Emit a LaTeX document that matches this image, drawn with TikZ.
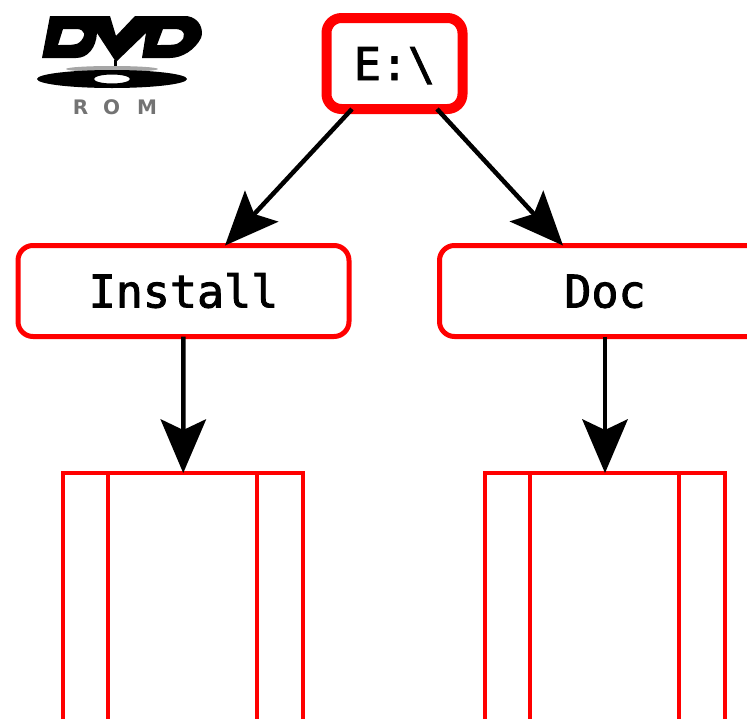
\documentclass[tikz,border=0pt]{standalone}
\usepackage{fontspec}
\usetikzlibrary{arrows.meta}
\setmonofont[FakeBold=2]{DejaVu Sans Mono}
\setsansfont{DejaVu Sans}
\definecolor{dirred}{RGB}{255,0,0}
\tikzset{
    dirbox/.style={draw=dirred, rounded corners=15pt, outer sep=0pt, line width=5pt, minimum width=331pt, minimum height=91pt,
        font=\ttfamily\fontsize{45}{45}\selectfont, text height=33pt, text depth=0pt},
    rootbox/.style={dirbox, line width=10pt, minimum width=136pt},
    filebox/.style={draw=dirred, outer sep=0pt, line width=3.5pt, minimum width=240pt, minimum height=280pt},
    link/.style={line width=4.5pt, -{Stealth[length=54pt, width=46pt, inset=11pt, line width=0pt]}},
}
\begin{document}
\begin{tikzpicture}[x=1pt, y=-1pt]
    \useasboundingbox (0, 0) rectangle (747, 718);
    \clip (0, 0) rectangle (747, 718);

    % logo
    \fill[even odd rule] (50, 16) -- (110, 16) -- (116, 36) -- (135, 16) -- (187, 16) .. controls (200, 18) and (204, 30) .. (201, 38)
        .. controls (195, 50) and (182, 58) .. (170, 58) -- (142, 58) -- (146, 33) -- (116, 62) -- (97, 33)
        .. controls (96, 48) and (88, 58) .. (76, 58) -- (42, 58) -- cycle
        (63, 29) -- (76, 29) .. controls (86, 29) and (86, 36) .. (80, 42) .. controls (77, 45) and (72, 45) .. (58, 45) -- cycle
        (163, 29) -- (175, 29) .. controls (186, 29) and (186, 38) .. (180, 42) .. controls (177, 45) and (172, 45) .. (157, 45) -- cycle;
    \fill (114, 60) rectangle (117, 70);
    \fill[black!35] (112, 69) ellipse [x radius=46, y radius=3];
    \fill[even odd rule] (112, 79) ellipse [x radius=75, y radius=9] (112, 79) ellipse [x radius=18, y radius=4.5];
    \node[font=\sffamily\bfseries\fontsize{20}{20}\selectfont, text=black!55] (rom) at (115, 107) {R\hspace{15pt}O\hspace{17pt}M};

    % directories
    \node[rootbox] (root) at (394.5, 63.5) {E:\textbackslash};
    \node[dirbox] (install) at (183.5, 291) {Install};
    \node[dirbox] (doc) at (605, 291) {Doc};

    % file lists
    \foreach \name/\x in {installfiles/183, docfiles/605} {
        \node[filebox] (\name) at (\x, 613) {};
        \draw[dirred, line width=3.5pt] ([xshift=-75pt]\name.north) -- ([xshift=-75pt]\name.south);
        \draw[dirred, line width=3.5pt] ([xshift=74pt]\name.north) -- ([xshift=74pt]\name.south);
    }

    \draw[link] ([xshift=-42.5pt]root.south) -- ([xshift=41.5pt]install.north);
    \draw[link] ([xshift=42.5pt]root.south) -- ([xshift=-42pt]doc.north);
    \draw[link] (install) -- (installfiles);
    \draw[link] (doc) -- (docfiles);
\end{tikzpicture}
\end{document}
